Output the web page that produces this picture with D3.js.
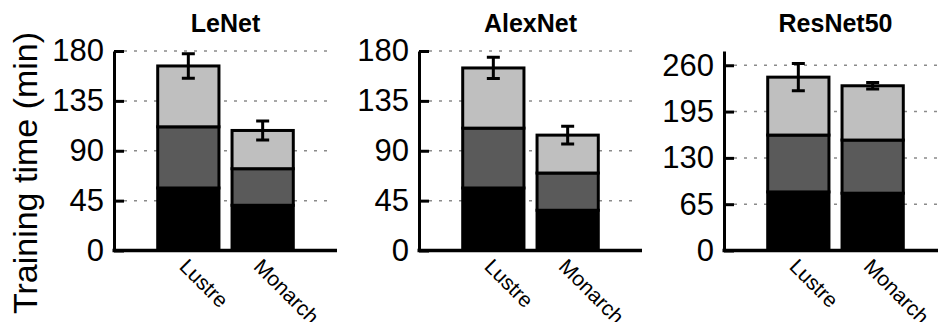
<!DOCTYPE html>
<html lang="en">
<head>
  <meta charset="UTF-8" />
  <title>Training time</title>
  <script src="https://d3js.org/d3.v7.min.js"></script>
  <style>
    html, body { margin: 0; padding: 0; background: #fff; }
    svg { display: block; font-family: "Liberation Sans", Arial, sans-serif; }
    .grid { stroke: #8a8a8a; stroke-width: 1.5px; stroke-dasharray: 3 7; }
    .bar { stroke: #000; stroke-width: 3px; }
    .err { stroke: #000; stroke-width: 3px; fill: none; }
  </style>
</head>
<body>
  <svg id="chart" width="938" height="322"></svg>
  <script>
    // values (minutes)
    const models   = ['LeNet', 'AlexNet', 'ResNet50'];
    const systems  = ['Lustre', 'Monarch'];
    const segBottom = [[56.4, 40.8], [56.4, 36.3], [82.2, 80.4]];
    const segMiddle = [[55.2, 33.0], [54.0, 33.6], [79.8, 74.6]];
    const segTop    = [[54.9, 34.5], [54.3, 34.2], [81.3, 76.2]];
    const errHalf   = [[11.0, 8.5], [9.6, 8.0], [19.0, 4.6]];
    const yMax      = [180, 180, 280];
    const yTicks    = [[0, 45, 90, 135, 180], [0, 45, 90, 135, 180], [0, 65, 130, 195, 260]];
    const segColors = ['#000000', '#5a5a5a', '#bfbfbf'];

    const svg = d3.select('#chart');
    const plotW = 223, yTop = 51, base = 250.5;
    const panelX = [114, 419, 724];

    svg.append('text')
      .attr('transform', `translate(37,173) rotate(-90)`)
      .attr('text-anchor', 'middle')
      .style('font-size', '34px')
      .text('Training time (min)');

    models.forEach((m, i) => {
      const g = svg.append('g').attr('transform', `translate(${panelX[i]},0)`);
      const y = d3.scaleLinear().domain([0, yMax[i]]).range([base, yTop]);
      const x = d3.scaleBand().domain(systems).range([0, plotW]).paddingInner(0.176).paddingOuter(0.588);

      g.append('text')
        .attr('x', plotW / 2).attr('y', 32)
        .attr('text-anchor', 'middle')
        .style('font-size', '25px').style('font-weight', 'bold')
        .text(m);

      g.selectAll('.grid').data(yTicks[i].filter(t => t > 0)).join('line')
        .attr('class', 'grid')
        .attr('x1', 10).attr('x2', plotW - 4)
        .attr('y1', d => y(d)).attr('y2', d => y(d));

      systems.forEach((s, j) => {
        const segs = [segBottom[i][j], segMiddle[i][j], segTop[i][j]];
        let acc = 0;
        const stack = segs.map((v, k) => { const d = {y0: acc, y1: acc + v, k}; acc += v; return d; });
        g.selectAll(`.bar-${j}`).data(stack).join('rect')
          .attr('class', `bar bar-${j}`)
          .attr('x', x(s)).attr('width', x.bandwidth())
          .attr('y', d => y(d.y1)).attr('height', d => y(d.y0) - y(d.y1))
          .attr('fill', d => segColors[d.k]);

        const cx = x(s) + x.bandwidth() / 2, e = errHalf[i][j];
        const path = d3.path();
        path.moveTo(cx, y(acc - e)); path.lineTo(cx, y(acc + e));
        path.moveTo(cx - 6.5, y(acc + e)); path.lineTo(cx + 6.5, y(acc + e));
        path.moveTo(cx - 6.5, y(acc - e)); path.lineTo(cx + 6.5, y(acc - e));
        g.append('path').attr('class', 'err').attr('d', path.toString());

        g.append('text')
          .attr('transform', `translate(${cx + 1},${base + 6}) rotate(45)`)
          .attr('dy', '0.75em')
          .style('font-size', '21px')
          .text(s);
      });

      const axis = d3.axisLeft(y).tickValues(yTicks[i]).tickSizeInner(-10).tickSizeOuter(0).tickPadding(10);
      const ax = g.append('g').call(axis);
      ax.selectAll('path, line').attr('stroke', '#000').attr('stroke-width', 3);
      ax.selectAll('text').style('font-size', '31px').style('font-family', '"Liberation Sans", Arial, sans-serif');

      g.append('line')
        .attr('x1', -1.5).attr('x2', i === 2 ? 240 : plotW)
        .attr('y1', base).attr('y2', base)
        .attr('stroke', '#000').attr('stroke-width', 3.5);
    });
  </script>
</body>
</html>
